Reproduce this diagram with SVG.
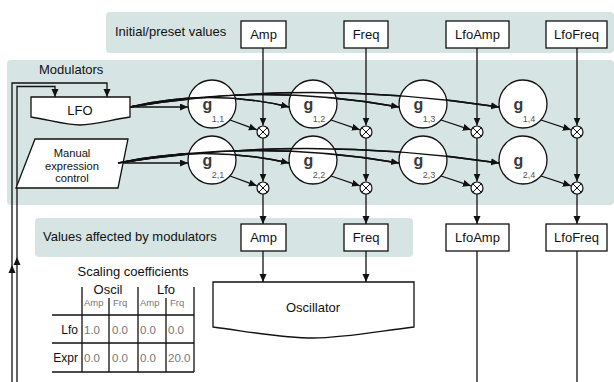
<svg xmlns="http://www.w3.org/2000/svg" width="614" height="382" viewBox="0 0 614 382">
<style>
text{font-family:"Liberation Sans",Arial,sans-serif;fill:#111}
.lbl{font-size:13px}
.man{font-size:11.2px}
.mid{text-anchor:middle}
.panel{fill:#d6e4e3;stroke:none}
.box{fill:#fff;stroke:#111;stroke-width:1.3}
.g{fill:#fff;stroke:#111;stroke-width:1.3}
.gl{font-size:16px;font-weight:bold;fill:#3a3a3a}
.sub{font-size:9px;fill:#555}
.mul{fill:#fff;stroke:#111;stroke-width:1.2}
.x{stroke:#111;stroke-width:1}
.ln{fill:none;stroke:#111;stroke-width:1.3}
.arr{fill:none;stroke:#111;stroke-width:1.3;marker-end:url(#ah)}
.tl{stroke:#111;stroke-width:1.3}
.th{font-size:9.5px;fill:#777}
.tv{font-size:11.5px;fill:#777}
.tr{font-size:12px;text-anchor:end}
</style>
<defs>
<marker id="ah" markerWidth="9" markerHeight="8" refX="8" refY="3.5" orient="auto" markerUnits="userSpaceOnUse">
<path d="M0,0 L8,3.5 L0,7 Z" fill="#111"/>
</marker>
</defs>

<g id="panels">
<rect class="panel" x="106" y="12" width="508" height="41" rx="4"/>
<rect class="panel" x="7" y="60" width="607" height="145" rx="4"/>
<rect class="panel" x="35" y="218" width="378" height="39" rx="4"/>
<text class="lbl" x="115" y="36">Initial/preset values</text>
<text class="lbl" x="39" y="74">Modulators</text>
<text class="lbl" x="43" y="241">Values affected by modulators</text>
</g>

<g id="connectors">
<path class="arr" d="M12,382 V83 H107 V97"/>
<path class="arr" d="M17,382 V86.5 H55 V97"/>
<path d="M12,265 l-3.5,8 h7 Z" fill="#111"/>
<path d="M17,257 l-3.5,8 h7 Z" fill="#111"/>
<path class="arr" d="M130,107 L188,107"/>
<path class="arr" d="M130,107 Q210,88 289,107"/>
<path class="arr" d="M130,107 Q260,82 399,107"/>
<path class="arr" d="M130,107 Q310,78 499,107"/>
<path class="arr" d="M118,163 L188,163"/>
<path class="arr" d="M118,163 Q205,144 289,163"/>
<path class="arr" d="M118,163 Q255,138 399,163"/>
<path class="arr" d="M118,163 Q305,134 499,163"/>
<path class="arr" d="M230,120 L256.9,129.8"/>
<path class="arr" d="M331,120 L359.9,129.8"/>
<path class="arr" d="M441,120 L470.9,129.8"/>
<path class="arr" d="M541,120 L570.9,129.8"/>
<path class="arr" d="M230,176 L256.9,185.8"/>
<path class="arr" d="M331,176 L359.9,185.8"/>
<path class="arr" d="M441,176 L470.9,185.8"/>
<path class="arr" d="M541,176 L570.9,185.8"/>
<path class="arr" d="M263,48 V125.5"/>
<path class="arr" d="M366,48 V125.5"/>
<path class="arr" d="M477,48 V125.5"/>
<path class="arr" d="M577,48 V125.5"/>
<path class="arr" d="M263,138 V181.5"/>
<path class="arr" d="M366,138 V181.5"/>
<path class="arr" d="M477,138 V181.5"/>
<path class="arr" d="M577,138 V181.5"/>
<path class="arr" d="M263,194 V224"/>
<path class="arr" d="M366,194 V224"/>
<path class="arr" d="M477,194 V224"/>
<path class="arr" d="M577,194 V224"/>
<path class="arr" d="M263,251 V282"/>
<path class="arr" d="M366,251 V282"/>
<path class="ln" d="M477,251 V382"/>
<path class="ln" d="M577,251 V382"/>
</g>

<g id="top-amp"><rect class="box" x="241" y="21" width="45" height="27"/><text class="lbl mid" x="263.5" y="39">Amp</text></g>
<g id="top-freq"><rect class="box" x="344" y="21" width="44" height="27"/><text class="lbl mid" x="366" y="39">Freq</text></g>
<g id="top-lfoamp"><rect class="box" x="446" y="21" width="63" height="27"/><text class="lbl mid" x="477.5" y="39">LfoAmp</text></g>
<g id="top-lfofreq"><rect class="box" x="546" y="21" width="61" height="27"/><text class="lbl mid" x="576.5" y="39">LfoFreq</text></g>

<g id="lfo"><path class="box" d="M31,97 H130 V117 C110,120 95,125 80,125 C65,125 50,120 31,117 Z"/><text class="lbl mid" x="80" y="115">LFO</text></g>
<g id="manual"><path class="box" d="M35,139 H128 L118,188 H16 Z"/>
<text class="man mid" x="72" y="157">Manual</text><text class="man mid" x="72" y="169.5">expression</text><text class="man mid" x="72" y="182">control</text></g>

<g id="g11"><circle class="g" cx="212" cy="104" r="24"/><text class="gl mid" x="207.5" y="110">g</text><text class="sub mid" x="218" y="122">1,1</text></g>
<g id="g12"><circle class="g" cx="313" cy="104" r="24"/><text class="gl mid" x="308.5" y="110">g</text><text class="sub mid" x="319" y="122">1,2</text></g>
<g id="g13"><circle class="g" cx="423" cy="104" r="24"/><text class="gl mid" x="418.5" y="110">g</text><text class="sub mid" x="429" y="122">1,3</text></g>
<g id="g14"><circle class="g" cx="523" cy="104" r="24"/><text class="gl mid" x="518.5" y="110">g</text><text class="sub mid" x="529" y="122">1,4</text></g>
<g id="g21"><circle class="g" cx="212" cy="160" r="24"/><text class="gl mid" x="207.5" y="166">g</text><text class="sub mid" x="218" y="178">2,1</text></g>
<g id="g22"><circle class="g" cx="313" cy="160" r="24"/><text class="gl mid" x="308.5" y="166">g</text><text class="sub mid" x="319" y="178">2,2</text></g>
<g id="g23"><circle class="g" cx="423" cy="160" r="24"/><text class="gl mid" x="418.5" y="166">g</text><text class="sub mid" x="429" y="178">2,3</text></g>
<g id="g24"><circle class="g" cx="523" cy="160" r="24"/><text class="gl mid" x="518.5" y="166">g</text><text class="sub mid" x="529" y="178">2,4</text></g>

<g id="connectors-over">
<path class="ln" d="M130,107 Q260,82 399,107"/>
<path class="ln" d="M130,107 Q310,78 499,107"/>
<path class="ln" d="M130,107 Q210,88 289,107"/>
<path class="ln" d="M118,163 Q255,138 399,163"/>
<path class="ln" d="M118,163 Q305,134 499,163"/>
<path class="ln" d="M118,163 Q205,144 289,163"/>
</g>

<g id="mul11"><circle class="mul" cx="263" cy="132" r="6"/><path class="x" d="M258.8,127.8 L267.2,136.2 M267.2,127.8 L258.8,136.2"/></g>
<g id="mul12"><circle class="mul" cx="366" cy="132" r="6"/><path class="x" d="M361.8,127.8 L370.2,136.2 M370.2,127.8 L361.8,136.2"/></g>
<g id="mul13"><circle class="mul" cx="477" cy="132" r="6"/><path class="x" d="M472.8,127.8 L481.2,136.2 M481.2,127.8 L472.8,136.2"/></g>
<g id="mul14"><circle class="mul" cx="577" cy="132" r="6"/><path class="x" d="M572.8,127.8 L581.2,136.2 M581.2,127.8 L572.8,136.2"/></g>
<g id="mul21"><circle class="mul" cx="263" cy="188" r="6"/><path class="x" d="M258.8,183.8 L267.2,192.2 M267.2,183.8 L258.8,192.2"/></g>
<g id="mul22"><circle class="mul" cx="366" cy="188" r="6"/><path class="x" d="M361.8,183.8 L370.2,192.2 M370.2,183.8 L361.8,192.2"/></g>
<g id="mul23"><circle class="mul" cx="477" cy="188" r="6"/><path class="x" d="M472.8,183.8 L481.2,192.2 M481.2,183.8 L472.8,192.2"/></g>
<g id="mul24"><circle class="mul" cx="577" cy="188" r="6"/><path class="x" d="M572.8,183.8 L581.2,192.2 M581.2,183.8 L572.8,192.2"/></g>

<g id="out-amp"><rect class="box" x="241" y="224" width="45" height="27"/><text class="lbl mid" x="263.5" y="242">Amp</text></g>
<g id="out-freq"><rect class="box" x="344" y="224" width="44" height="27"/><text class="lbl mid" x="366" y="242">Freq</text></g>
<g id="out-lfoamp"><rect class="box" x="446" y="224" width="63" height="27"/><text class="lbl mid" x="477.5" y="242">LfoAmp</text></g>
<g id="out-lfofreq"><rect class="box" x="546" y="224" width="61" height="27"/><text class="lbl mid" x="576.5" y="242">LfoFreq</text></g>

<g id="oscillator"><path class="box" d="M213,282 H414 V327 C380,331 345,338 313,338 C280,338 245,331 213,327 Z"/><text class="lbl mid" x="313" y="311.5">Oscillator</text></g>

<g id="table">
<text class="lbl mid" x="133" y="276">Scaling coefficients</text>
<text class="lbl mid" x="108" y="294">Oscil</text>
<text class="lbl mid" x="166" y="294">Lfo</text>
<text class="th" x="84" y="306">Amp</text>
<text class="th" x="113" y="306">Frq</text>
<text class="th" x="140" y="306">Amp</text>
<text class="th" x="170" y="306">Frq</text>
<path class="tl" d="M82,287 V372 M138,287 V372 M194,287 V372 M109,298 V372 M166,298 V372 M52,315 H194 M52,343 H194 M52,372 H194"/>
<text class="tr" x="78" y="333.5">Lfo</text>
<text class="tr" x="78" y="362">Expr</text>
<text class="tv" x="84" y="333.5">1.0</text>
<text class="tv" x="112" y="333.5">0.0</text>
<text class="tv" x="140" y="333.5">0.0</text>
<text class="tv" x="168" y="333.5">0.0</text>
<text class="tv" x="84" y="362">0.0</text>
<text class="tv" x="112" y="362">0.0</text>
<text class="tv" x="140" y="362">0.0</text>
<text class="tv" x="168" y="362">20.0</text>
</g>
</svg>
